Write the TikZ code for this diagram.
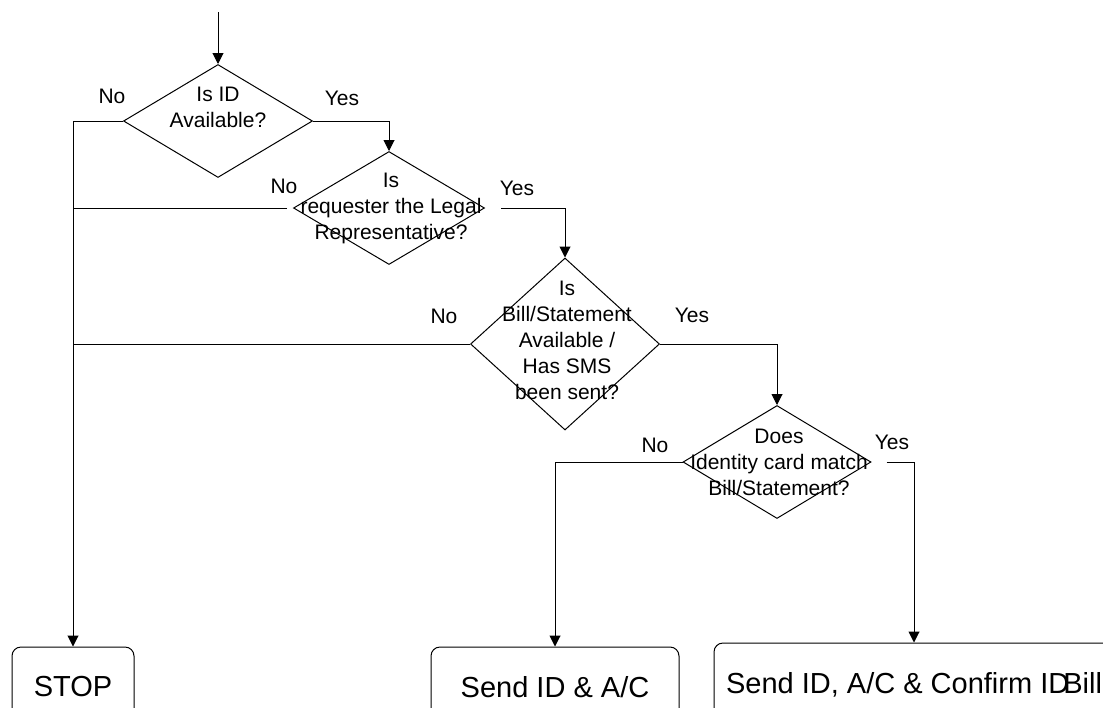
\documentclass[tikz,border=0pt]{standalone}
\usepackage{fontspec}
\setmainfont{Liberation Sans}
\usetikzlibrary{shapes.geometric,arrows.meta}
\tikzset{
    decision/.style = {draw, diamond, line width=1pt, inner sep=0pt,
        minimum width=189pt, minimum height=113pt},
    qtext/.style = {align=center, inner sep=0pt, font=\fontsize{21}{26}\selectfont},
    answer/.style = {anchor=base, inner sep=0pt, font=\fontsize{21}{26}\selectfont},
    block/.style = {draw, rectangle, line width=1pt, rounded corners=9pt,
        minimum height=80pt, font=\fontsize{29}{34}\selectfont},
    line/.style = {draw, line width=1pt},
    arrow/.style = {draw, line width=1pt, ->}
}

\begin{document}
\begin{tikzpicture}[x=1pt, y=-1pt, >={Triangle[length=11pt,width=11pt]}]
    \useasboundingbox (0,0) rectangle (1103,707);
    \clip (0,0) rectangle (1103,707);
    % decisions
    \node [decision, label={[qtext,yshift=14pt]center:Is ID\\Available?}] (idq) at (218,121) {};
    \node [decision, minimum width=191pt, label={[qtext,xshift=2pt]center:Is\\requester the Legal\\Representative?}] (legalq) at (389,208) {};
    \node [decision, minimum height=172pt, label={[qtext,xshift=2pt,yshift=4pt]center:Is\\Bill/Statement\\Available /\\Has SMS\\been sent?}] (billq) at (565,344) {};
    \node [decision, minimum width=188pt, label={[qtext,xshift=2pt]center:Does\\Identity card match\\Bill/Statement?}] (matchq) at (777,462) {};
    % outcomes
    \node [block, minimum width=122pt] (stop) at (73,687) {STOP};
    \node [block, minimum width=248pt] (sendac) at (555,687) {Send ID \& A/C};
    \node [block, minimum width=400pt, minimum height=84pt] (sendall) at (914,685) {Send ID, A/C \& Confirm ID\kern-6pt Bill};
    % answers
    \node [answer] (no1) at (112,103) {No};
    \node [answer] (yes1) at (342,105) {Yes};
    \node [answer] (no2) at (284,193) {No};
    \node [answer] (yes2) at (517,195) {Yes};
    \node [answer] (no3) at (444,323) {No};
    \node [answer] (yes3) at (692,322) {Yes};
    \node [answer] (no4) at (655,452) {No};
    \node [answer] (yes4) at (892,449) {Yes};
    % connectors
    \coordinate (start) at (218,12);
    \draw [arrow] (start) -- (idq.north);
    \draw [arrow] (idq.west) -| (stop.north);
    \draw [arrow] (idq.east) -| (legalq.north);
    \draw [line, shorten <=6pt] (legalq.west) -- (legalq.west -| stop.north);
    \draw [arrow, shorten <=16pt] (legalq.east) -| (billq.north);
    \draw [line] (billq.west) -- (billq.west -| stop.north);
    \draw [arrow] (billq.east) -| (matchq.north);
    \draw [arrow] (matchq.west) -| (sendac.north);
    \draw [arrow, shorten <=15pt] (matchq.east) -| (sendall.north);
\end{tikzpicture}
\end{document}
